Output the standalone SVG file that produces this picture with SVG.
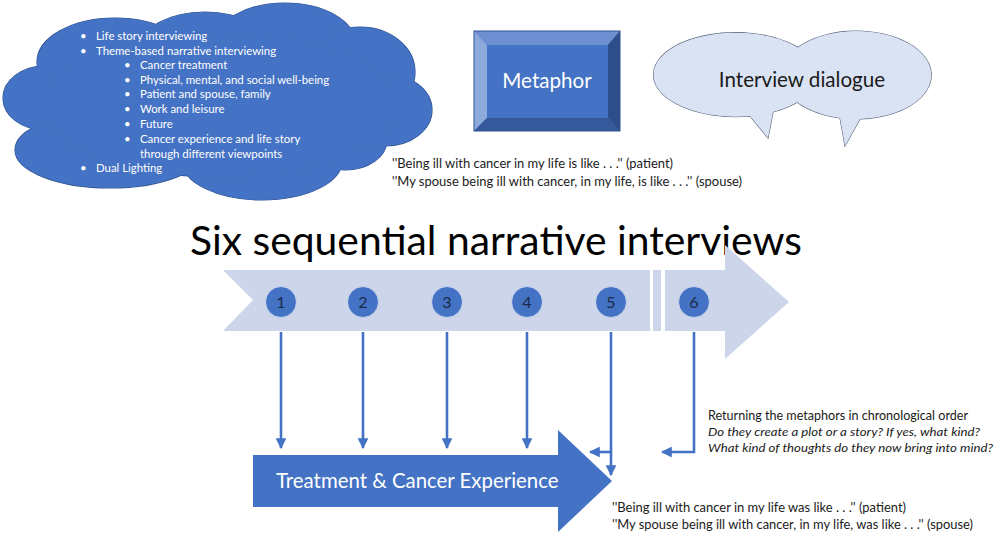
<svg xmlns="http://www.w3.org/2000/svg" width="995" height="534" viewBox="0 0 995 534">
  <defs>
    <style>
      text { font-family: "Lato", "Open Sans", "Liberation Sans", sans-serif; }
      .cloud-t { fill: #ffffff; font-size: 11.4px; }
      .note { fill: #1a1a1a; font-size: 12.4px; }
      .num { fill: #1b2b4a; font-size: 16px; text-anchor: middle; }
      .conn { stroke: #4472C4; stroke-width: 2.6; fill: none; }
      .lobe-s { fill: #4472C4; stroke: #2F528F; stroke-width: 1.2; }
      .lobe-f { fill: #4472C4; }
      .bub-s { fill: #DAE3F3; stroke: #4d5c72; stroke-width: 1.1; }
      .bub-f { fill: #DAE3F3; }
    </style>
    <marker id="head" viewBox="0 0 10 10" refX="9" refY="5" markerWidth="4.2" markerHeight="4.2" orient="auto" markerUnits="strokeWidth">
      <path d="M0,0 L10,5 L0,10 Z" fill="#4472C4"/>
    </marker>
    <g id="cloudLobes">
      <ellipse cx="45" cy="98" rx="42" ry="32"/>
      <ellipse cx="115" cy="62" rx="78" ry="44"/>
      <ellipse cx="205" cy="48" rx="65" ry="36"/>
      <ellipse cx="285" cy="43" rx="70" ry="40"/>
      <ellipse cx="360" cy="72" rx="55" ry="45"/>
      <ellipse cx="385" cy="110" rx="47" ry="36"/>
      <ellipse cx="345" cy="140" rx="42" ry="30"/>
      <ellipse cx="262" cy="161" rx="80" ry="39"/>
      <ellipse cx="110" cy="150" rx="95" ry="38"/>
      <ellipse cx="220" cy="105" rx="180" ry="72"/>
    </g>
  </defs>

  <rect width="995" height="534" fill="#ffffff"/>

  <!-- Cloud with interview topics -->
  <g id="cloud">
    <use href="#cloudLobes" class="lobe-s"/>
    <use href="#cloudLobes" class="lobe-f"/>
    <text class="cloud-t">
      <tspan x="80" y="40">•</tspan><tspan x="96" y="40">Life story interviewing</tspan>
      <tspan x="80" y="55">•</tspan><tspan x="96" y="55">Theme-based narrative interviewing</tspan>
      <tspan x="124" y="69">•</tspan><tspan x="140" y="69">Cancer treatment</tspan>
      <tspan x="124" y="84">•</tspan><tspan x="140" y="84">Physical, mental, and social well-being</tspan>
      <tspan x="124" y="98">•</tspan><tspan x="140" y="98">Patient and spouse, family</tspan>
      <tspan x="124" y="113">•</tspan><tspan x="140" y="113">Work and leisure</tspan>
      <tspan x="124" y="128">•</tspan><tspan x="140" y="128">Future</tspan>
      <tspan x="124" y="143">•</tspan><tspan x="140" y="143">Cancer experience and life story</tspan>
      <tspan x="140" y="158">through different viewpoints</tspan>
      <tspan x="80" y="172">•</tspan><tspan x="96" y="172">Dual Lighting</tspan>
    </text>
  </g>

  <!-- Bevelled metaphor box -->
  <g id="metaphor">
    <rect x="474" y="31" width="146" height="100" fill="#4472C4"/>
    <polygon points="474,31 620,31 608,45 487,45" fill="#6E8FD2"/>
    <polygon points="474,31 487,45 487,118 474,131" fill="#8EA9DC"/>
    <polygon points="620,31 620,131 608,118 608,45" fill="#2E4E8A"/>
    <polygon points="474,131 487,118 608,118 620,131" fill="#36599C"/>
    <rect x="487" y="45" width="121" height="73" fill="#4472C4"/>
    <rect x="474" y="31" width="146" height="100" fill="none" stroke="#2F528F" stroke-width="1"/>
    <text x="547" y="88" fill="#ffffff" font-size="20.6" text-anchor="middle">Metaphor</text>
  </g>

  <g id="metaphor-prompts">
    <text class="note" x="392" y="168" textLength="281" lengthAdjust="spacingAndGlyphs">''Being ill with cancer in my life is like . . .'' (patient)</text>
    <text class="note" x="392" y="186" textLength="350" lengthAdjust="spacingAndGlyphs">''My spouse being ill with cancer, in my life, is like . . .'' (spouse)</text>
  </g>

  <!-- Two overlapping speech bubbles -->
  <g id="dialogue">
    <path class="bub-s" d="M750,116 A82,42 0 1 1 773,112 L768,138 Z"/>
    <path class="bub-s" d="M840,118 A75,44 0 1 1 860,119 L845,146 Z"/>
    <path class="bub-f" d="M750,116 A82,42 0 1 1 773,112 L768,138 Z"/>
    <path class="bub-f" d="M840,118 A75,44 0 1 1 860,119 L845,146 Z"/>
    <text x="802" y="87" fill="#1a1a1a" font-size="20.6" text-anchor="middle">Interview dialogue</text>
  </g>

  <text id="title" x="190" y="255" fill="#000000" font-size="40" textLength="612" lengthAdjust="spacingAndGlyphs">Six sequential narrative interviews</text>

  <!-- Timeline arrow with a break before the sixth interview -->
  <g id="timeline">
    <polygon points="223,270 650,270 650,331 223,331 253,300" fill="#CDD5EA"/>
    <rect x="653" y="270" width="8" height="61" fill="#CDD5EA"/>
    <polygon points="665,270 725,270 725,245 789,302 725,359 725,331 665,331" fill="#CDD5EA"/>
  </g>

  <g id="interview-1"><circle cx="281" cy="302" r="15.5" fill="#4472C4" stroke="#C9D6EE" stroke-width="1"/><text class="num" x="281" y="308">1</text></g>
  <g id="interview-2"><circle cx="363" cy="302" r="15.5" fill="#4472C4" stroke="#C9D6EE" stroke-width="1"/><text class="num" x="363" y="308">2</text></g>
  <g id="interview-3"><circle cx="447" cy="302" r="15.5" fill="#4472C4" stroke="#C9D6EE" stroke-width="1"/><text class="num" x="447" y="308">3</text></g>
  <g id="interview-4"><circle cx="527" cy="302" r="15.5" fill="#4472C4" stroke="#C9D6EE" stroke-width="1"/><text class="num" x="527" y="308">4</text></g>
  <g id="interview-5"><circle cx="611" cy="302" r="15.5" fill="#4472C4" stroke="#C9D6EE" stroke-width="1"/><text class="num" x="611" y="308">5</text></g>
  <g id="interview-6"><circle cx="694" cy="302" r="15.5" fill="#4472C4" stroke="#C9D6EE" stroke-width="1"/><text class="num" x="694" y="308">6</text></g>

  <!-- Treatment arrow -->
  <g id="treatment">
    <polygon points="253,455 558,455 558,430 612,481 558,532 558,507 253,507" fill="#4472C4"/>
    <text x="276" y="488" fill="#ffffff" font-size="20.4">Treatment &amp; Cancer Experience</text>
  </g>

  <!-- Connectors -->
  <g id="connectors">
    <line class="conn" x1="281" y1="332" x2="281" y2="448" marker-end="url(#head)"/>
    <line class="conn" x1="363" y1="332" x2="363" y2="448" marker-end="url(#head)"/>
    <line class="conn" x1="447" y1="332" x2="447" y2="448" marker-end="url(#head)"/>
    <line class="conn" x1="527" y1="332" x2="527" y2="448" marker-end="url(#head)"/>
    <line class="conn" x1="611" y1="332" x2="611" y2="475" marker-end="url(#head)"/>
    <line class="conn" x1="612" y1="452" x2="590" y2="452" marker-end="url(#head)"/>
    <polyline class="conn" points="694,332 694,452 662,452" marker-end="url(#head)"/>
  </g>

  <g id="return-notes">
    <text class="note" x="708" y="420" textLength="260" lengthAdjust="spacingAndGlyphs">Returning the metaphors in chronological order</text>
    <text class="note" x="708" y="436" font-style="italic" textLength="272" lengthAdjust="spacingAndGlyphs">Do they create a plot or a story? If yes, what kind?</text>
    <text class="note" x="708" y="452" font-style="italic" textLength="285" lengthAdjust="spacingAndGlyphs">What kind of thoughts do they now bring into mind?</text>
  </g>

  <g id="past-prompts">
    <text class="note" x="612" y="512" textLength="294" lengthAdjust="spacingAndGlyphs">''Being ill with cancer in my life was like . . .'' (patient)</text>
    <text class="note" x="612" y="529" textLength="361" lengthAdjust="spacingAndGlyphs">''My spouse being ill with cancer, in my life, was like . . .'' (spouse)</text>
  </g>
</svg>
